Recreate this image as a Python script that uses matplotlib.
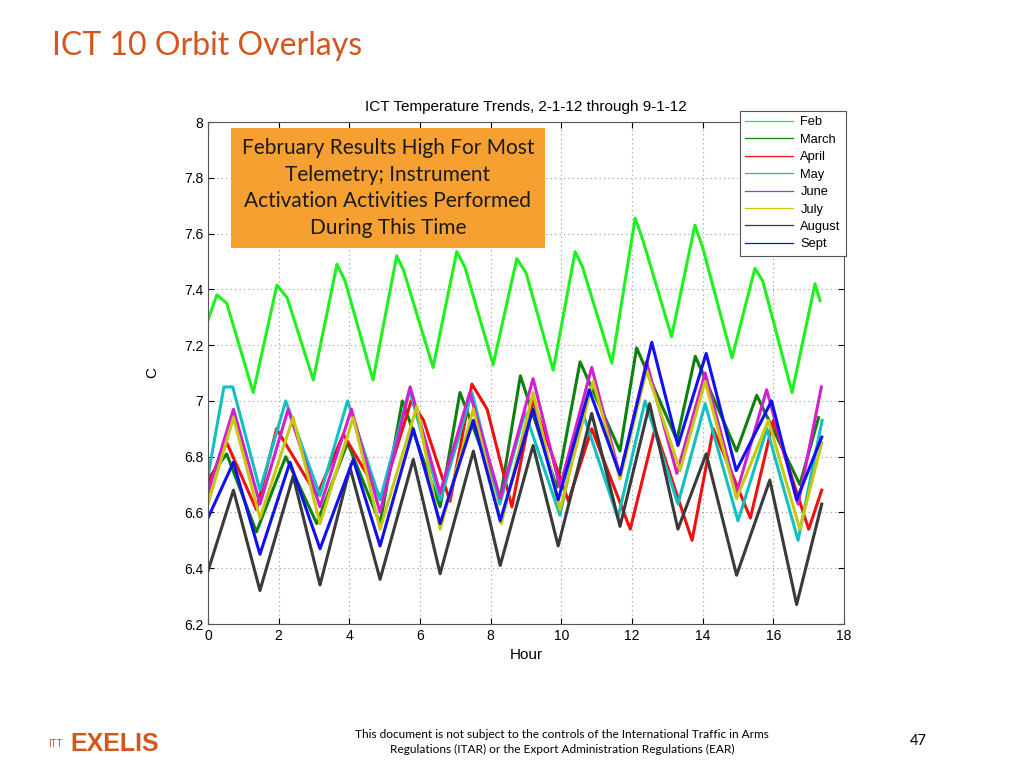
import matplotlib
matplotlib.use("Agg")
import matplotlib.pyplot as plt
from matplotlib.lines import Line2D

plt.rcParams['font.family'] = ['Liberation Sans', 'DejaVu Sans']

# ---------------- data (peaks / troughs per orbit) ----------------

feb_h = [0, 0.25, 0.53, 1.28, 1.95, 2.24, 2.98, 3.65, 3.88, 4.67, 5.34, 5.53, 6.37, 7.04, 7.27,
         8.07, 8.74, 9.0, 9.77, 10.39, 10.6, 11.43, 12.09, 12.3, 13.12, 13.78, 14.0, 14.83,
         15.48, 15.7, 16.53, 17.18, 17.32]
feb_v = [7.29, 7.38, 7.35, 7.03, 7.415, 7.37, 7.075, 7.49, 7.43, 7.075, 7.52, 7.47, 7.12, 7.535, 7.48,
         7.13, 7.51, 7.46, 7.11, 7.535, 7.48, 7.135, 7.655, 7.58, 7.23, 7.63, 7.55, 7.155,
         7.475, 7.43, 7.03, 7.42, 7.36]

mar_h = [0, 0.53, 1.37, 2.2, 3.08, 3.95, 4.87, 5.5, 6.57, 7.13, 8.27, 8.84, 9.87, 10.53, 11.66,
         12.13, 13.27, 13.79, 14.96, 15.53, 16.75, 17.28]
mar_v = [6.72, 6.81, 6.53, 6.80, 6.56, 6.85, 6.56, 7.0, 6.62, 7.03, 6.65, 7.09, 6.69, 7.14, 6.82,
         7.19, 6.86, 7.16, 6.82, 7.02, 6.70, 6.94]

apr_h = [0, 0.53, 1.37, 1.94, 3.08, 3.83, 4.9, 5.75, 6.1, 6.85, 7.47, 7.9, 8.6, 9.2, 10.2, 10.86,
         11.95, 12.65, 13.7, 14.3, 15.35, 16.0, 17.0, 17.37]
apr_v = [6.70, 6.85, 6.61, 6.90, 6.66, 6.88, 6.65, 7.0, 6.93, 6.64, 7.06, 6.97, 6.62, 7.0, 6.64, 6.90,
         6.54, 6.90, 6.50, 6.90, 6.58, 6.93, 6.54, 6.68]

may_h = [0, 0.45, 0.7, 1.47, 2.2, 3.17, 3.95, 4.87, 5.7, 6.57, 7.47, 8.26, 8.97, 9.96, 10.6, 11.6,
         12.37, 13.3, 14.07, 15.0, 15.82, 16.7, 17.38]
may_v = [6.73, 7.05, 7.05, 6.68, 7.0, 6.66, 7.0, 6.645, 7.04, 6.645, 7.03, 6.63, 6.96, 6.59, 6.96, 6.58,
         7.0, 6.63, 6.99, 6.57, 6.90, 6.50, 6.93]

jun_h = [0, 0.72, 1.47, 2.27, 3.17, 4.06, 4.87, 5.72, 6.57, 7.41, 8.27, 9.2, 9.96, 10.86, 11.66,
         12.41, 13.27, 14.07, 14.96, 15.81, 16.7, 17.36]
jun_v = [6.67, 6.97, 6.63, 6.97, 6.62, 6.97, 6.60, 7.05, 6.67, 7.03, 6.65, 7.08, 6.69, 7.12, 6.73,
         7.14, 6.74, 7.10, 6.67, 7.04, 6.63, 7.05]

jul_h = [0, 0.72, 1.47, 2.41, 3.17, 4.11, 4.87, 5.91, 6.57, 7.51, 8.3, 9.2, 9.96, 10.9, 11.66,
         12.41, 13.36, 14.07, 14.96, 15.86, 16.75, 17.37]
jul_v = [6.63, 6.94, 6.58, 6.94, 6.56, 6.94, 6.54, 6.98, 6.54, 6.97, 6.56, 7.03, 6.61, 7.07, 6.72,
         7.11, 6.75, 7.07, 6.65, 6.93, 6.54, 6.85]

aug_h = [0, 0.72, 1.47, 2.41, 3.17, 4.02, 4.87, 5.81, 6.57, 7.51, 8.27, 9.2, 9.91, 10.86, 11.66,
         12.5, 13.3, 14.1, 14.96, 15.9, 16.66, 17.37]
aug_v = [6.39, 6.68, 6.32, 6.73, 6.34, 6.76, 6.36, 6.79, 6.38, 6.82, 6.41, 6.84, 6.48, 6.955, 6.55,
         6.99, 6.54, 6.81, 6.375, 6.716, 6.27, 6.63]

sep_h = [0, 0.72, 1.47, 2.32, 3.17, 4.11, 4.87, 5.81, 6.57, 7.51, 8.27, 9.2, 9.91, 10.79, 11.66,
         12.56, 13.3, 14.1, 14.95, 15.95, 16.66, 17.37]
sep_v = [6.58, 6.78, 6.45, 6.78, 6.47, 6.79, 6.48, 6.90, 6.56, 6.93, 6.57, 6.97, 6.645, 7.04, 6.735,
         7.21, 6.84, 7.17, 6.75, 7.0, 6.645, 6.87]

months = ["Feb", "March", "April", "May", "June", "July", "August", "Sept"]
colors = ["#1FF01F", "#0E800E", "#F01010", "#12C0C0", "#D020D0", "#C8C810", "#3A3A3A", "#1010F0"]
series = [(feb_h, feb_v), (mar_h, mar_v), (apr_h, apr_v), (may_h, may_v),
          (jun_h, jun_v), (jul_h, jul_v), (aug_h, aug_v), (sep_h, sep_v)]

x_ticks = list(range(0, 19, 2))
y_ticks = [6.2, 6.4, 6.6, 6.8, 7, 7.2, 7.4, 7.6, 7.8, 8]
y_labels = ["6.2", "6.4", "6.6", "6.8", "7", "7.2", "7.4", "7.6", "7.8", "8"]

# ---------------- figure ----------------

fig = plt.figure(figsize=(10.24, 7.68), dpi=100)
ax = fig.add_axes([208/1024, 1 - 624/768, (844 - 208)/1024, (624 - 122)/768])

for (hh, vv), c in zip(series, colors):
    ax.plot(hh, vv, color=c, lw=2.2)

ax.set_xlim(0, 18)
ax.set_ylim(6.2, 8)
ax.set_xticks(x_ticks)
ax.set_yticks(y_ticks)
ax.set_yticklabels(y_labels)
ax.tick_params(direction="in", labelsize=10, length=4, top=True, right=True,
               labeltop=False, labelright=False)
ax.grid(True, linestyle=(0, (1, 3)), color="#999999", lw=0.8)
for s in ax.spines.values():
    s.set_color("#555555")
    s.set_linewidth(0.8)

ax.set_xlabel("Hour", fontsize=11, labelpad=4)
ax.set_ylabel("C", fontsize=11, labelpad=18)
ax.set_title("ICT Temperature Trends, 2-1-12 through 9-1-12", fontsize=11, pad=8)

# legend (thin lines like MATLAB)
handles = [Line2D([0], [0], color=c, lw=0.9) for c in colors]
leg = ax.legend(handles, months, loc="upper right", bbox_to_anchor=(846/1024, 1 - 111/768),
                bbox_transform=fig.transFigure, borderaxespad=0, fancybox=False,
                edgecolor="#555555", framealpha=1, fontsize=9.3, handlelength=3.7,
                labelspacing=0.42, handletextpad=0.6, borderpad=0.4)
leg.get_frame().set_linewidth(0.8)

# orange callout box
fig.text(388/1024, 1 - 188/768,
         "February Results High For Most\nTelemetry; Instrument\nActivation Activities Performed\nDuring This Time",
         ha="center", va="center", fontsize=15, family=["Lato", "DejaVu Sans"], color="#1a1a1a",
         linespacing=1.4,
         bbox=dict(boxstyle="square,pad=0.5", fc="#F7A032", ec="none"))

# slide decorations
fig.text(52/1024, 1 - 46/768, "ICT 10 Orbit Overlays", fontsize=23, color="#D2561E",
         family=["Lato", "DejaVu Sans"], va="center", ha="left")
fig.text(562/1024, 1 - 742/768,
         "This document is not subject to the controls of the International Traffic in Arms\n"
         "Regulations (ITAR) or the Export Administration Regulations (EAR)",
         ha="center", va="center", fontsize=8.6, family=["Lato", "DejaVu Sans"], linespacing=1.4)
fig.text(918/1024, 1 - 741/768, "47", ha="center", va="center", fontsize=10.5,
         family=["Lato", "DejaVu Sans"])
fig.text(48/1024, 1 - 744/768, "ITT", ha="left", va="center", fontsize=7, color="#D2561E",
         family=["Liberation Sans", "DejaVu Sans"])
fig.text(70/1024, 1 - 744/768, "EXELIS", ha="left", va="center", fontsize=18, fontweight="bold",
         color="#D2561E", family=["Liberation Sans", "DejaVu Sans"])

fig.savefig("out.png", dpi=100)
